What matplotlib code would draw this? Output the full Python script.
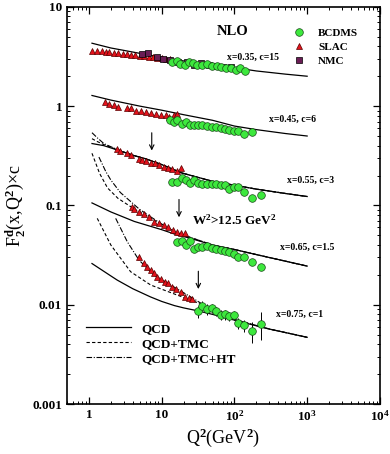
import matplotlib
matplotlib.use("Agg")
import matplotlib.pyplot as plt
from matplotlib.lines import Line2D

plt.rcParams['font.family'] = ['Liberation Serif', 'DejaVu Serif']
plt.rcParams['font.weight'] = 'bold'
plt.rcParams['mathtext.fontset'] = 'custom'
plt.rcParams['mathtext.rm'] = 'Liberation Serif:bold'
plt.rcParams['mathtext.it'] = 'Liberation Serif:bold'
plt.rcParams['mathtext.bf'] = 'Liberation Serif:bold'

# ---- QCD curves (solid), per x bin, already multiplied by c ----
qcd = {
    0.35: ([1.1, 2, 5, 10, 20, 50, 100, 140, 200, 500, 1000],
           [4.3, 3.85, 3.4, 3.1, 2.85, 2.6, 2.42, 2.35, 2.26, 2.1, 2.0]),
    0.45: ([1.1, 2, 5, 10, 20, 50, 100, 200, 500, 1000],
           [1.28, 1.15, 1.0, 0.91, 0.82, 0.72, 0.63, 0.58, 0.53, 0.50]),
    0.55: ([1.1, 1.6, 2.5, 4, 6, 10, 19, 50, 100, 200, 500, 1000],
           [0.42, 0.40, 0.36, 0.32, 0.295, 0.258, 0.212, 0.175, 0.16, 0.146, 0.132, 0.123]),
    0.65: ([1.1, 2, 4.2, 10, 16.4, 24, 50, 100, 200, 500, 1000],
           [0.106, 0.086, 0.069, 0.057, 0.0504, 0.047, 0.040, 0.036, 0.032, 0.0275, 0.0245]),
    0.75: ([1.1, 2, 2.45, 4, 7, 10, 15, 20, 31, 50, 100, 160, 300, 600, 1000],
           [0.026, 0.0195, 0.0177, 0.0145, 0.0120, 0.0108, 0.0098, 0.0093, 0.0087, 0.0080,
            0.0070, 0.0064, 0.0057, 0.0051, 0.0047]),
}

# ---- QCD+TMC (dashed) ----
tmc = {
    0.55: ([1.1, 1.3, 1.6, 2.0, 2.5, 4, 6, 10, 19, 50, 100, 200, 500, 1000],
           [0.47, 0.44, 0.41, 0.385, 0.362, 0.32, 0.295, 0.258, 0.212, 0.175, 0.16, 0.146, 0.132, 0.123]),
    0.65: ([1.1, 1.4, 1.8, 2.5, 4.2, 7, 10, 16, 24, 50, 100, 200, 500, 1000],
           [0.335, 0.21, 0.15, 0.118, 0.092, 0.075, 0.064, 0.053, 0.048, 0.040, 0.036, 0.032, 0.0275, 0.0245]),
    0.75: ([1.3, 2.0, 3.74, 7.06, 16.4, 31, 45, 70, 100, 300, 1000],
           [0.0741, 0.0399, 0.0215, 0.0158, 0.0125, 0.0105, 0.0090, 0.0077, 0.0071, 0.0057, 0.0047]),
}

# ---- QCD+TMC+HT (dash-dot) ----
tmcht = {
    0.55: ([1.1, 1.3, 1.6, 2.0, 2.5, 4, 6, 10, 19, 50, 100, 200, 500, 1000],
           [0.54, 0.48, 0.42, 0.39, 0.364, 0.321, 0.295, 0.258, 0.212, 0.175, 0.16, 0.146, 0.132, 0.123]),
    0.65: ([1.37, 1.7, 2.0, 2.7, 4.9, 7, 10, 16, 24, 50, 100, 200, 500, 1000],
           [0.307, 0.22, 0.18, 0.135, 0.092, 0.077, 0.065, 0.053, 0.048, 0.040, 0.036, 0.032, 0.0275, 0.0245]),
    0.75: ([2.33, 3.37, 4.87, 7.83, 13.3, 25, 45, 70, 100, 300, 1000],
           [0.0741, 0.043, 0.0282, 0.0199, 0.0158, 0.012, 0.0092, 0.0077, 0.0071, 0.0057, 0.0047]),
}

# ---- SLAC data ----
slac = {
    0.35: ([1.1, 1.3, 1.5, 1.7, 1.9, 2.2, 2.5, 2.9, 3.3, 3.8, 4.3, 5.0, 5.8, 6.6, 7.5, 8.6, 10, 11.5, 13],
           [3.62, 3.58, 3.55, 3.52, 3.48, 3.45, 3.42, 3.38, 3.35, 3.30, 3.26, 3.22, 3.18, 3.14, 3.10,
            3.06, 3.02, 2.98, 2.95]),
    0.45: ([1.66, 1.88, 2.21, 2.53, 3.30, 3.74, 4.38, 5.14, 6.0, 7.06, 8.27, 9.7, 11.3, 12.6, 14.8, 16.2],
           [1.10, 1.05, 1.02, 0.99, 0.95, 0.95, 0.90, 0.89, 0.87, 0.85, 0.84, 0.82, 0.81, 0.78, 0.81, 0.83]),
    0.55: ([2.45, 2.64, 3.37, 3.74, 4.87, 5.41, 6.0, 7.06, 8.08, 9.18, 10.7, 12.3, 14.0, 16.4, 18.2],
           [0.368, 0.356, 0.335, 0.322, 0.291, 0.287, 0.282, 0.270, 0.266, 0.255, 0.245, 0.237,
            0.231, 0.222, 0.240]),
    0.65: ([3.94, 4.16, 4.87, 5.7, 6.69, 7.83, 9.18, 10.7, 12.3, 14.3, 16.4, 18.2, 20.9],
           [0.097, 0.0914, 0.0865, 0.0819, 0.0769, 0.0685, 0.066, 0.0634, 0.061, 0.0565, 0.0543,
            0.0523, 0.0523]),
    0.75: ([4.87, 5.7, 6.33, 7.06, 7.83, 8.69, 9.70, 11.1, 12.3, 14.0, 15.9, 18.2, 20.9, 23.7, 26.4],
           [0.030, 0.0261, 0.0241, 0.0223, 0.0207, 0.0191, 0.018, 0.017, 0.0164, 0.0151, 0.0143,
            0.0135, 0.012, 0.0116, 0.0113]),
}

# ---- NMC data (x=0.35 only) ----
nmc_q2 = [5.3, 6.5, 8.5, 10.5, 13, 17, 22, 28, 35, 45, 55, 70, 90]
nmc_f2 = [3.35, 3.40, 3.15, 3.00, 2.90, 2.75, 2.80, 2.60, 2.70, 2.62, 2.55, 2.50, 2.45]

# ---- BCDMS data ----
bcdms = {
    0.35: ([14, 16, 18, 21, 24, 27, 31, 36, 42, 49, 57, 66, 77, 90, 105, 120, 140],
           [2.75, 2.85, 2.65, 2.62, 2.80, 2.70, 2.62, 2.60, 2.65, 2.55, 2.52, 2.48, 2.42, 2.40,
            2.30, 2.40, 2.25]),
    0.45: ([12.9, 14.8, 16.4, 18.8, 21.3, 24.2, 27.7, 31.8, 36.2, 42.4, 49.7, 56.6, 64.7, 74.2,
            84.3, 98, 113, 135, 172],
           [0.72, 0.70, 0.72, 0.66, 0.69, 0.65, 0.65, 0.645, 0.64, 0.63, 0.615, 0.615, 0.60, 0.585,
            0.575, 0.565, 0.56, 0.53, 0.545]),
    0.55: ([14.0, 16.4, 18.8, 21.3, 24.2, 27.7, 31.8, 36.2, 42.4, 49.7, 56.6, 64.7, 74.2, 84.3,
            98, 113, 135, 172, 229],
           [0.173, 0.173, 0.190, 0.180, 0.170, 0.180, 0.167, 0.164, 0.164, 0.163, 0.163, 0.161,
            0.161, 0.145, 0.154, 0.152, 0.137, 0.120, 0.127]),
    0.65: ([16.4, 18.8, 21.3, 24.2, 27.7, 31.8, 36.2, 42.4, 49.7, 56.6, 64.7, 74.2, 84.3, 98,
            113, 135, 172, 229],
           [0.043, 0.044, 0.0399, 0.044, 0.0361, 0.0378, 0.0384, 0.039, 0.037, 0.0361, 0.0355,
            0.0347, 0.0341, 0.0324, 0.0304, 0.030, 0.027, 0.0241]),
    0.75: ([31.8, 36.2, 42.4, 49.7, 56.6, 64.7, 74.2, 84.3, 98, 113, 135, 172, 229],
           [0.0086, 0.0098, 0.0090, 0.0092, 0.0086, 0.0079, 0.0080, 0.0077, 0.0079, 0.0065,
            0.0062, 0.0054, 0.0064]),
}
bcdms_err75 = [0.0012, 0.0010, 0.0011, 0.0010, 0.0009, 0.0009, 0.0009, 0.0008, 0.0008, 0.0008,
               0.0009, 0.0013, 0.0020]

# W^2 > 12.5 GeV^2 arrows: (Q2, F top, F bottom)
arrows = [(7.3, 0.575, 0.335), (17.3, 0.1225, 0.0713), (31.9, 0.0232, 0.0135)]

# bin labels: (Q2 where text ends, F, text)
labels = [(410, 3.13, 'x=0.35, c=15'), (1320, 0.743, 'x=0.45, c=6'), (2340, 0.180, 'x=0.55, c=3'),
          (2340, 0.0381, 'x=0.65, c=1.5'), (1650, 0.0080, 'x=0.75, c=1')]

fig = plt.figure(figsize=(3.9, 4.54), dpi=100)
ax = fig.add_axes([0.172, 0.110, 0.802, 0.875])
ax.set_xscale('log')
ax.set_yscale('log')
ax.set_xlim(0.5, 1e4)
ax.set_ylim(1e-3, 10)

for k, (q, f) in qcd.items():
    ax.plot(q, f, color='black', lw=0.9, zorder=2)
for k, (q, f) in tmc.items():
    ax.plot(q, f, color='black', lw=0.8, ls=(0, (3, 2)), zorder=2)
for k, (q, f) in tmcht.items():
    ax.plot(q, f, color='black', lw=0.8, ls=(0, (5, 1.5, 1, 1.5)), zorder=2)

green = '#3de83d'
red = '#e3121b'
purple = '#6a1d55'

for k, (q, f) in slac.items():
    ax.plot(q, f, ls='none', marker='^', ms=4.2, mfc=red, mec='#5a0000', mew=0.5, zorder=4)
ax.plot(nmc_q2, nmc_f2, ls='none', marker='s', ms=4.5, mfc=purple, mec='black', mew=0.5, zorder=4)
for k, (q, f) in bcdms.items():
    if k == 0.75:
        ax.errorbar(q, f, yerr=bcdms_err75, fmt='o', ms=5.5, mfc=green, mec='#1a4a1a', mew=0.5,
                    ecolor='black', elinewidth=0.7, capsize=0, zorder=5)
    else:
        ax.plot(q, f, ls='none', marker='o', ms=5.5, mfc=green, mec='#1a4a1a', mew=0.5, zorder=5)

for q, ftop, fbot in arrows:
    ax.annotate('', xy=(q, fbot), xytext=(q, ftop),
                arrowprops=dict(arrowstyle='->', color='black', lw=0.8, mutation_scale=8))

for q, f, t in labels:
    ax.text(q, f, t, fontsize=7, ha='right', va='center')

ax.text(93, 5.6, 'NLO', fontsize=10.5, ha='center', va='center')
ax.text(26, 0.0713, 'W$^2$>12.5 GeV$^2$', fontsize=9.5, ha='left', va='center')

h1 = [Line2D([], [], ls='none', marker='o', ms=5.5, mfc=green, mec='#1a4a1a', mew=0.5),
      Line2D([], [], ls='none', marker='^', ms=4.2, mfc=red, mec='#5a0000', mew=0.5),
      Line2D([], [], ls='none', marker='s', ms=4.5, mfc=purple, mec='black', mew=0.5)]
leg1 = ax.legend(h1, ['BCDMS', 'SLAC', 'NMC'], loc='upper left', bbox_to_anchor=(0.70, 0.965),
                 frameon=False, fontsize=8, handlelength=1.0, handletextpad=1.2,
                 labelspacing=0.35, borderpad=0.2)
ax.add_artist(leg1)

h2 = [Line2D([], [], color='black', lw=0.9),
      Line2D([], [], color='black', lw=0.8, ls=(0, (3, 2))),
      Line2D([], [], color='black', lw=0.8, ls=(0, (5, 1.5, 1, 1.5)))]
ax.legend(h2, ['QCD', 'QCD+TMC', 'QCD+TMC+HT'], loc='lower left', bbox_to_anchor=(0.03, 0.075),
          frameon=False, fontsize=9.5, handlelength=3.4, handletextpad=0.8,
          labelspacing=0.22, borderpad=0.2)

ax.set_xticks([1, 10, 100, 1000, 10000])
ax.set_xticklabels(['1', '10', '$10^2$', '$10^3$', '$10^4$'])
ax.set_yticks([0.001, 0.01, 0.1, 1, 10])
ax.set_yticklabels(['0.001', '0.01', '0.1', '1', '10'])
ax.tick_params(which='both', direction='in', top=True, right=True, labelsize=9.5)
ax.tick_params(which='major', length=5, width=0.9)
ax.tick_params(which='minor', length=2.5, width=0.7)
for s in ax.spines.values():
    s.set_linewidth(1.2)

ax.set_xlabel('Q$^2$(GeV$^2$)', fontsize=13, labelpad=2)
ax.set_ylabel('F$_2^d$(x,Q$^2$)×c', fontsize=13, labelpad=4)

fig.savefig('out.png', dpi=100)
